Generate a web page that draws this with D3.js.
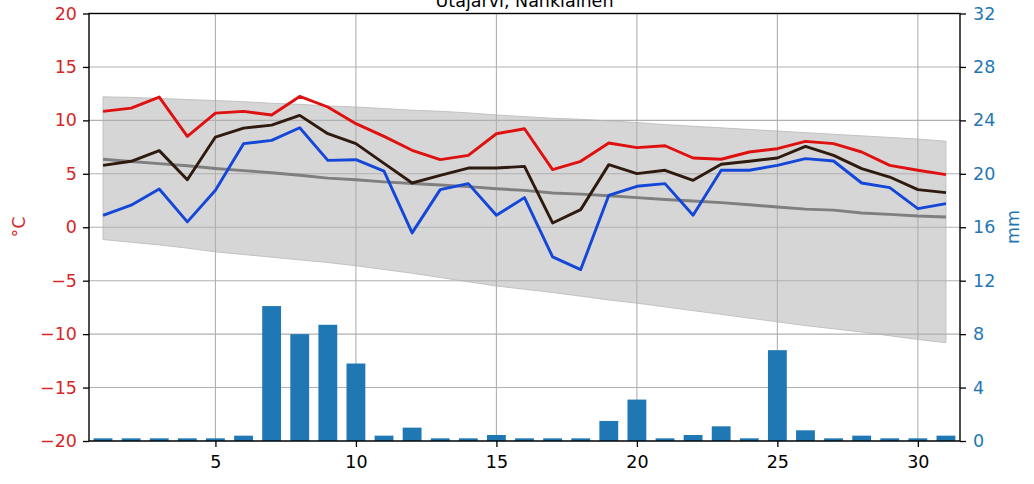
<!DOCTYPE html>
<html><head><meta charset="utf-8">
<script src="https://cdn.jsdelivr.net/npm/d3@7"></script>
<style>
html,body{margin:0;padding:0;background:#fff;}
svg{display:block;font-family:"DejaVu Sans",sans-serif;}
</style></head>
<body>
<svg id="chart" width="1034" height="484"></svg>
<script>
const title = "Utajärvi, Nahkiainen";
const days = [1,2,3,4,5,6,7,8,9,10,11,12,13,14,15,16,17,18,19,20,21,22,23,24,25,26,27,28,29,30,31];
const tMax = [10.84,11.15,12.18,8.5,10.68,10.84,10.5,12.24,11.25,9.69,8.5,7.2,6.33,6.73,8.75,9.22,5.39,6.17,7.88,7.45,7.63,6.48,6.36,7.04,7.35,8.04,7.82,7.04,5.79,5.33,4.92];
const tMean = [5.79,6.17,7.17,4.45,8.44,9.28,9.56,10.47,8.75,7.82,5.98,4.14,4.86,5.54,5.54,5.7,0.4,1.65,5.86,5.02,5.33,4.39,5.89,6.17,6.48,7.57,6.73,5.48,4.7,3.52,3.24];
const tMin = [1.12,2.06,3.58,0.5,3.46,7.82,8.13,9.31,6.26,6.32,5.26,-0.53,3.52,4.08,1.12,2.77,-2.77,-3.96,2.99,3.83,4.08,1.12,5.33,5.33,5.79,6.42,6.2,4.14,3.71,1.74,2.21];
const climMean = [6.36,6.15,5.95,5.75,5.5,5.3,5.1,4.86,4.6,4.45,4.25,4.1,3.95,3.8,3.6,3.45,3.2,3.1,2.95,2.77,2.6,2.45,2.3,2.1,1.9,1.7,1.6,1.34,1.2,1.05,0.96];
const climHigh = [12.2,12.15,12.05,11.95,11.85,11.75,11.6,11.5,11.35,11.25,11.1,10.95,10.85,10.7,10.5,10.35,10.2,10.1,9.95,9.8,9.6,9.45,9.3,9.15,9.0,8.85,8.7,8.55,8.4,8.25,8.05];
const climLow = [-1.15,-1.4,-1.65,-1.95,-2.3,-2.55,-2.8,-3.05,-3.3,-3.6,-3.95,-4.3,-4.7,-5.1,-5.5,-5.8,-6.1,-6.45,-6.8,-7.1,-7.45,-7.8,-8.15,-8.5,-8.85,-9.2,-9.5,-9.8,-10.15,-10.5,-10.8];
const precip = [0.2,0.2,0.2,0.2,0.2,0.4,10.1,8.0,8.7,5.8,0.4,1.0,0.2,0.2,0.45,0.2,0.2,0.2,1.5,3.1,0.2,0.45,1.1,0.2,6.8,0.8,0.2,0.4,0.2,0.2,0.4];
const xTicks = [5,10,15,20,25,30];
const tTicks = [-20,-15,-10,-5,0,5,10,15,20];
const pTicks = [0,4,8,12,16,20,24,28,32];

const W = 1034, H = 484;
const m = {left: 89, right: 960, top: 13.5, bottom: 441};
const fs = 17.5;
const svg = d3.select("#chart");

const x = d3.scaleLinear().domain([0.5, 31.5]).range([m.left, m.right]);
const yT = d3.scaleLinear().domain([-20, 20]).range([m.bottom, m.top]);
const yP = d3.scaleLinear().domain([0, 32]).range([m.bottom, m.top]);

// band
const band = d3.area().x((d,i)=>x(days[i])).y0((d,i)=>yT(climLow[i])).y1((d,i)=>yT(climHigh[i]));
svg.append("path").datum(days).attr("d", band)
  .attr("fill", "#d6d6d6").attr("stroke", "#c2c2c2").attr("stroke-width", 1);

// grid
const grid = svg.append("g").attr("stroke", "#b0b0b0").attr("stroke-width", 1.1);
xTicks.forEach(t => grid.append("line").attr("x1", x(t)).attr("x2", x(t)).attr("y1", m.top).attr("y2", m.bottom));
tTicks.forEach(t => grid.append("line").attr("x1", m.left).attr("x2", m.right).attr("y1", yT(t)).attr("y2", yT(t)));

function line(vals){
  return d3.line().x((d,i)=>x(days[i])).y(d=>yT(d))(vals);
}
svg.append("path").attr("d", line(climMean)).attr("fill","none").attr("stroke","#7f7f7f").attr("stroke-width",2.9);
svg.append("path").attr("d", line(tMax)).attr("fill","none").attr("stroke","#df1010").attr("stroke-width",2.9).attr("stroke-linejoin","round");
svg.append("path").attr("d", line(tMean)).attr("fill","none").attr("stroke","#2e1a0e").attr("stroke-width",2.9).attr("stroke-linejoin","round");
svg.append("path").attr("d", line(tMin)).attr("fill","none").attr("stroke","#1446d8").attr("stroke-width",2.9).attr("stroke-linejoin","round");

// bars
const bw = 0.67;
svg.append("g").selectAll("rect").data(precip).join("rect")
  .attr("x", (d,i)=>x(days[i]-bw/2)).attr("width", x(bw)-x(0))
  .attr("y", d=>yP(d)).attr("height", d=>yP(0)-yP(d))
  .attr("fill", "#1f77b4");

// axes
const axL = svg.append("g").attr("transform", `translate(${m.left},0)`)
  .call(d3.axisLeft(yT).tickValues(tTicks).tickSize(6).tickPadding(6).tickSizeOuter(0));
axL.selectAll("text").attr("fill", "#d62728").style("font-size", fs+"px").style("font-family","DejaVu Sans");
const axR = svg.append("g").attr("transform", `translate(${m.right},0)`)
  .call(d3.axisRight(yP).tickValues(pTicks).tickSize(6).tickPadding(7).tickSizeOuter(0));
axR.selectAll("text").attr("fill", "#1f77b4").style("font-size", fs+"px").style("font-family","DejaVu Sans");
const axB = svg.append("g").attr("transform", `translate(0,${m.bottom})`)
  .call(d3.axisBottom(x).tickValues(xTicks).tickSize(6).tickPadding(9).tickSizeOuter(0));
axB.selectAll("text").attr("fill", "#000").style("font-size", fs+"px").style("font-family","DejaVu Sans");
[axL, axR, axB].forEach(a => { a.select(".domain").remove(); a.selectAll(".tick line").attr("stroke","#000").attr("stroke-width",1.3); });

// spines
svg.append("rect").attr("x", m.left).attr("y", m.top).attr("width", m.right-m.left).attr("height", m.bottom-m.top)
  .attr("fill","none").attr("stroke","#000").attr("stroke-width",1.4);

// labels
svg.append("text").attr("transform", `translate(25,227) rotate(-90)`).attr("text-anchor","middle")
  .attr("fill","#d62728").style("font-size", fs+"px").text("°C");
svg.append("text").attr("transform", `translate(1019,227) rotate(-90)`).attr("text-anchor","middle")
  .attr("fill","#1f77b4").style("font-size", fs+"px").text("mm");
// title sits partly above the top edge, as in the reference
svg.append("text").attr("x", (m.left+m.right)/2).attr("y", 7).attr("text-anchor","middle")
  .attr("fill","#000").style("font-size", fs+"px").text(title);
</script>
</body></html>
